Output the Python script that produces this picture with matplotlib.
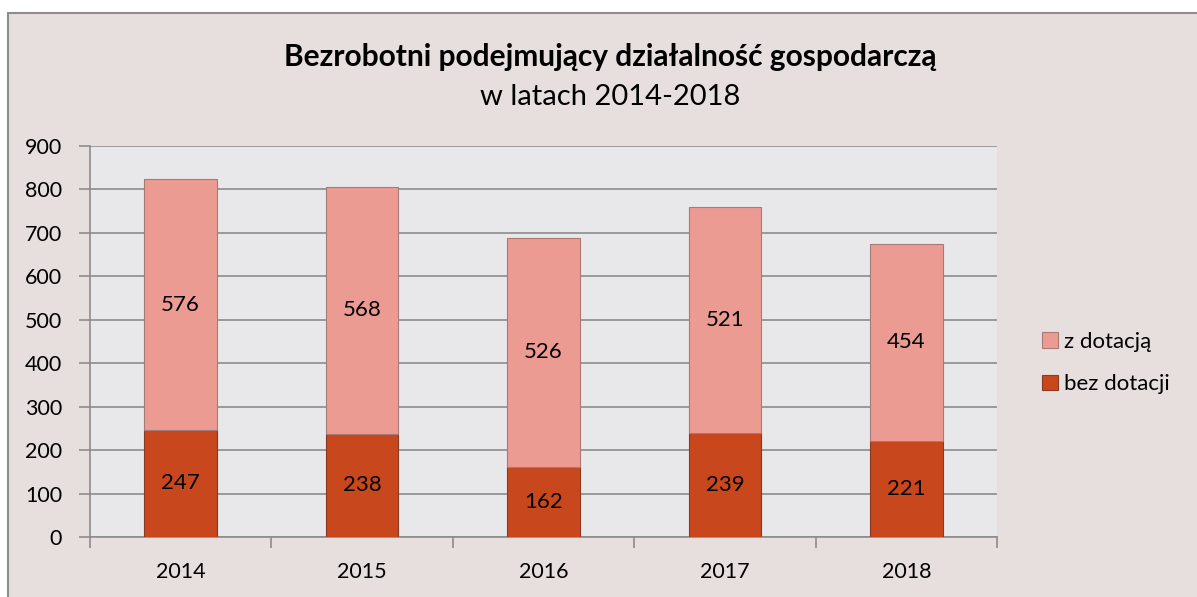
import matplotlib
matplotlib.use("Agg")
import matplotlib.pyplot as plt
from matplotlib.patches import Rectangle
import numpy as np

years = ["2014", "2015", "2016", "2017", "2018"]
bez_dotacji = [247, 238, 162, 239, 221]
z_dotacja = [576, 568, 526, 521, 454]
yticks = [0, 100, 200, 300, 400, 500, 600, 700, 800, 900]

plt.rcParams['font.family'] = ['Lato', 'DejaVu Sans']

W, H = 1197, 597
fig = plt.figure(figsize=(W / 100, H / 100), dpi=100)
fig.patch.set_facecolor('white')
# outer chart area with border
bg = Rectangle((8 / W, -0.1), 1.2, 1 - 13 / H + 0.1, transform=fig.transFigure,
               facecolor='#E7DEDE', edgecolor='#8C8C8C', linewidth=1.5, zorder=-10)
fig.patches.append(bg)

ax = fig.add_axes([90 / W, 1 - 537 / H, (997 - 90) / W, (537 - 146) / H])
ax.set_facecolor('#E8E8EA')

x = np.arange(len(years))
c_dark = '#C9471D'
c_light = '#EC9B93'
b1 = ax.bar(x, bez_dotacji, width=0.4, color=c_dark, edgecolor='#8A3A22', linewidth=0.8,
            label='bez dotacji', zorder=3)
b2 = ax.bar(x, z_dotacja, width=0.4, bottom=bez_dotacji, color=c_light, edgecolor='#A87A76',
            linewidth=0.8, label='z dotacją', zorder=3)

for i in range(len(years)):
    ax.text(x[i], bez_dotacji[i] / 2, str(bez_dotacji[i]), ha='center', va='center',
            fontsize=16, color='black', zorder=4)
    ax.text(x[i], bez_dotacji[i] + z_dotacja[i] / 2, str(z_dotacja[i]), ha='center', va='center',
            fontsize=16, color='black', zorder=4)

ax.set_ylim(0, 900)
ax.set_xlim(-0.5, len(years) - 0.5)
ax.set_yticks(yticks)
ax.set_yticklabels([str(v) for v in yticks], fontsize=15.5)
ax.yaxis.grid(True, color='#8C8C8C', linewidth=1.2, zorder=1)
ax.set_axisbelow(True)
ax.set_xticks(x)
ax.set_xticklabels(years, fontsize=15.5)
ax.tick_params(axis='x', length=0, pad=18)
ax.set_xticks(np.arange(len(years) + 1) - 0.5, minor=True)
ax.tick_params(axis='x', which='minor', length=8, color='#8C8C8C', width=1.2)
ax.tick_params(axis='y', length=8, color='#8C8C8C', width=1.2, pad=12)
for s in ['top', 'right']:
    ax.spines[s].set_visible(False)
for s in ['left', 'bottom']:
    ax.spines[s].set_color('#8C8C8C')
    ax.spines[s].set_linewidth(1.2)

handles = [b2, b1]
leg = fig.legend(handles, ['z dotacją', 'bez dotacji'], loc='center left',
                 bbox_to_anchor=(1022 / W, 1 - 363 / H), frameon=False, fontsize=16,
                 handlelength=0.7, handleheight=0.7, handletextpad=0.3, labelspacing=1.0)

fig.text(610 / W, 1 - 57 / H, 'Bezrobotni podejmujący działalność gospodarczą', ha='center',
         va='center', fontsize=21.5, fontweight='bold')
fig.text(610 / W, 1 - 97 / H, 'w latach 2014-2018', ha='center', va='center', fontsize=21)

fig.savefig('out.png', dpi=100, facecolor=fig.get_facecolor())
